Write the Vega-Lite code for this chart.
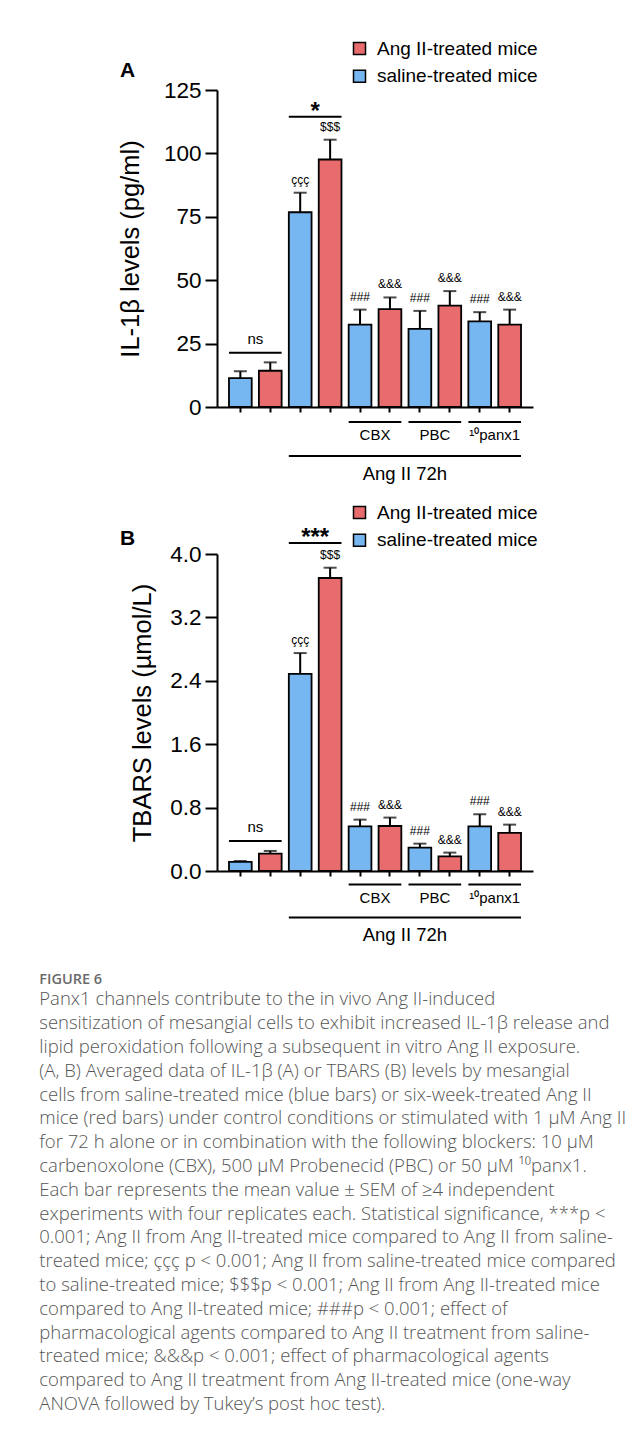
{
  "$schema": "https://vega.github.io/schema/vega-lite/v6.json",
  "padding": {"left": 39, "top": 39, "right": 10, "bottom": 20},
  "background": "white",
  "datasets": {
    "barsA": [
      {"bar": "b1", "group": "saline-treated mice", "mean": 11.4, "err": 14.1, "sig": ""},
      {"bar": "b2", "group": "Ang II-treated mice", "mean": 14.3, "err": 17.6, "sig": ""},
      {"bar": "b3", "group": "saline-treated mice", "mean": 76.8, "err": 84.5, "sig": "ççç"},
      {"bar": "b4", "group": "Ang II-treated mice", "mean": 97.6, "err": 105.4, "sig": "$$$"},
      {"bar": "b5", "group": "saline-treated mice", "mean": 32.5, "err": 38.4, "sig": "###"},
      {"bar": "b6", "group": "Ang II-treated mice", "mean": 38.6, "err": 43.2, "sig": "&&&"},
      {"bar": "b7", "group": "saline-treated mice", "mean": 30.8, "err": 37.9, "sig": "###"},
      {"bar": "b8", "group": "Ang II-treated mice", "mean": 40.0, "err": 45.7, "sig": "&&&"},
      {"bar": "b9", "group": "saline-treated mice", "mean": 33.8, "err": 37.4, "sig": "###"},
      {"bar": "b10", "group": "Ang II-treated mice", "mean": 32.5, "err": 38.4, "sig": "&&&"}
    ],
    "barsB": [
      {"bar": "b1", "group": "saline-treated mice", "mean": 0.114, "err": 0.126, "sig": ""},
      {"bar": "b2", "group": "Ang II-treated mice", "mean": 0.219, "err": 0.253, "sig": ""},
      {"bar": "b3", "group": "saline-treated mice", "mean": 2.488, "err": 2.75, "sig": "ççç"},
      {"bar": "b4", "group": "Ang II-treated mice", "mean": 3.697, "err": 3.827, "sig": "$$$"},
      {"bar": "b5", "group": "saline-treated mice", "mean": 0.564, "err": 0.648, "sig": "###"},
      {"bar": "b6", "group": "Ang II-treated mice", "mean": 0.568, "err": 0.674, "sig": "&&&"},
      {"bar": "b7", "group": "saline-treated mice", "mean": 0.295, "err": 0.345, "sig": "###"},
      {"bar": "b8", "group": "Ang II-treated mice", "mean": 0.185, "err": 0.232, "sig": "&&&"},
      {"bar": "b9", "group": "saline-treated mice", "mean": 0.564, "err": 0.716, "sig": "###"},
      {"bar": "b10", "group": "Ang II-treated mice", "mean": 0.48, "err": 0.585, "sig": "&&&"}
    ],
    "brA": [
      {"from": "b1", "to": "b2", "y": 21.4, "label": "ns"},
      {"from": "b3", "to": "b4", "y": 114.5, "label": "*"},
      {"from": "b5", "to": "b6", "y": -5.9, "label": "CBX"},
      {"from": "b7", "to": "b8", "y": -5.9, "label": "PBC"},
      {"from": "b9", "to": "b10", "y": -5.9, "label": "¹⁰panx1"},
      {"from": "b3", "to": "b10", "y": -19.3, "label": "Ang II 72h"}
    ],
    "brB": [
      {"from": "b1", "to": "b2", "y": 0.379, "label": "ns"},
      {"from": "b3", "to": "b4", "y": 4.139, "label": "***"},
      {"from": "b5", "to": "b6", "y": -0.17, "label": "CBX"},
      {"from": "b7", "to": "b8", "y": -0.17, "label": "PBC"},
      {"from": "b9", "to": "b10", "y": -0.17, "label": "¹⁰panx1"},
      {"from": "b3", "to": "b10", "y": -0.586, "label": "Ang II 72h"}
    ]
  },
  "title": {
    "text": "FIGURE 6",
    "subtitle": [
      "Panx1 channels contribute to the in vivo Ang II-induced",
      "sensitization of mesangial cells to exhibit increased IL-1β release and",
      "lipid peroxidation following a subsequent in vitro Ang II exposure.",
      "(A, B) Averaged data of IL-1β (A) or TBARS (B) levels by mesangial",
      "cells from saline-treated mice (blue bars) or six-week-treated Ang II",
      "mice (red bars) under control conditions or stimulated with 1 µM Ang II",
      "for 72 h alone or in combination with the following blockers: 10 µM",
      "carbenoxolone (CBX), 500 µM Probenecid (PBC) or 50 µM ¹⁰panx1.",
      "Each bar represents the mean value ± SEM of ≥4 independent",
      "experiments with four replicates each. Statistical significance, ***p <",
      "0.001; Ang II from Ang II-treated mice compared to Ang II from saline-",
      "treated mice; ççç p < 0.001; Ang II from saline-treated mice compared",
      "to saline-treated mice; $$$p < 0.001; Ang II from Ang II-treated mice",
      "compared to Ang II-treated mice; ###p < 0.001; effect of",
      "pharmacological agents compared to Ang II treatment from saline-",
      "treated mice; &&&p < 0.001; effect of pharmacological agents",
      "compared to Ang II treatment from Ang II-treated mice (one-way",
      "ANOVA followed by Tukey’s post hoc test)."
    ],
    "orient": "bottom",
    "anchor": "start",
    "frame": "group",
    "dx": -177.7,
    "offset": 28,
    "font": "Open Sans",
    "fontSize": 14.5,
    "fontWeight": 600,
    "color": "#6a6a6a",
    "subtitleFont": "Open Sans",
    "subtitleFontSize": 18.5,
    "subtitleFontWeight": 300,
    "subtitleColor": "#555555",
    "subtitleLineHeight": 23.8,
    "subtitlePadding": 3
  },
  "spacing": 147,
  "bounds": "flush",
  "resolve": {
    "scale": {"color": "independent", "x": "independent", "y": "independent"},
    "legend": {"color": "independent"}
  },
  "vconcat": [
    {
      "width": 316,
      "height": 317,
      "title": {"text": "A", "anchor": "start", "frame": "group", "dx": -97, "offset": -42, "fontSize": 21, "fontWeight": "bold", "font": "Liberation Sans", "color": "black"},
      "layer": [
        {
          "data": {"name": "barsA"},
          "mark": {"type": "bar", "stroke": "black", "strokeWidth": 1.8},
          "encoding": {
            "x": {"field": "bar", "type": "nominal",
              "scale": {"domain": ["b1","b2","b3","b4","b5","b6","b7","b8","b9","b10"], "paddingInner": 0.24, "paddingOuter": 0.4},
              "axis": {"labels": false, "title": null, "ticks": true, "tickSize": 5, "domainWidth": 2, "tickWidth": 2, "domainColor": "black", "tickColor": "black"}},
            "y": {"field": "mean", "type": "quantitative",
              "scale": {"domain": [0, 125], "nice": false},
              "axis": {"title": "IL-1β levels (pg/ml)", "values": [0,12.5,25,37.5,50,62.5,75,87.5,100,112.5,125], "format": "d",
                "labelExpr": "datum.value % 25 === 0 ? datum.label : ''",
                "tickSize": {"condition": {"test": "datum.value % 25 === 0", "value": 12}, "value": 7},
                "labelFontSize": 22.5, "labelPadding": 4, "titleFontSize": 25.5, "titlePadding": 19.5, "grid": false}},
            "color": {"field": "group", "type": "nominal",
              "scale": {"domain": ["Ang II-treated mice", "saline-treated mice"], "range": ["#e86b6e", "#76b7f2"]},
              "legend": {"orient": "none", "legendX": 133, "legendY": -51, "title": null, "symbolType": "square", "symbolSize": 144, "symbolStrokeColor": "black", "symbolStrokeWidth": 1.5, "labelFontSize": 19, "labelFont": "Liberation Sans", "labelColor": "black", "labelLimit": 400, "rowPadding": 7.7, "labelOffset": 8, "padding": 0}}
          }
        },
        {
          "data": {"name": "barsA"},
          "mark": {"type": "rule", "strokeWidth": 2, "color": "black"},
          "encoding": {
            "x": {"field": "bar", "type": "nominal"},
            "y": {"field": "mean", "type": "quantitative"},
            "y2": {"field": "err"}
          }
        },
        {
          "data": {"name": "barsA"},
          "mark": {"type": "tick", "orient": "horizontal", "size": 13, "thickness": 2, "color": "black"},
          "encoding": {
            "x": {"field": "bar", "type": "nominal"},
            "y": {"field": "err", "type": "quantitative"}
          }
        },
        {
          "data": {"name": "barsA"},
          "mark": {"type": "text", "dy": -13, "baseline": "middle", "fontSize": 12, "font": "Liberation Sans", "color": "black"},
          "encoding": {
            "x": {"field": "bar", "type": "nominal"},
            "y": {"field": "err", "type": "quantitative"},
            "text": {"field": "sig"}
          }
        },
        {
          "data": {"name": "brA"},
          "mark": {"type": "rule", "strokeWidth": 2, "color": "black"},
          "encoding": {
            "x": {"field": "from", "type": "nominal", "bandPosition": 0},
            "x2": {"field": "to", "bandPosition": 1},
            "y": {"field": "y", "type": "quantitative"}
          }
        },
        {
          "data": {"name": "brA"},
          "transform": [{"filter": "datum.label === 'ns'"}],
          "mark": {"type": "text", "baseline": "alphabetic", "dy": -8.5, "fontSize": 15, "font": "Liberation Sans", "color": "black"},
          "encoding": {
            "x": {"field": "from", "type": "nominal", "bandPosition": 1.158},
            "y": {"field": "y", "type": "quantitative"},
            "text": {"field": "label"}
          }
        },
        {
          "data": {"name": "brA"},
          "transform": [{"filter": "datum.label === '*' || datum.label === '***'"}],
          "mark": {"type": "text", "baseline": "alphabetic", "dy": 2, "fontSize": 24, "fontWeight": "bold", "font": "Liberation Sans", "color": "black"},
          "encoding": {
            "x": {"field": "from", "type": "nominal", "bandPosition": 1.158},
            "y": {"field": "y", "type": "quantitative"},
            "text": {"field": "label"}
          }
        },
        {
          "data": {"name": "brA"},
          "transform": [{"filter": "indexof(['CBX','PBC','¹⁰panx1'], datum.label) >= 0"}],
          "mark": {"type": "text", "baseline": "middle", "dy": 13.5, "fontSize": 15, "font": "Liberation Sans", "color": "black"},
          "encoding": {
            "x": {"field": "from", "type": "nominal", "bandPosition": 1.158},
            "y": {"field": "y", "type": "quantitative"},
            "text": {"field": "label"}
          }
        },
        {
          "data": {"name": "brA"},
          "transform": [{"filter": "datum.label === 'Ang II 72h'"}],
          "mark": {"type": "text", "baseline": "middle", "dy": 18, "fontSize": 18.5, "font": "Liberation Sans", "color": "black"},
          "encoding": {
            "x": {"field": "from", "type": "nominal", "bandPosition": 5.105},
            "y": {"field": "y", "type": "quantitative"},
            "text": {"field": "label"}
          }
        }
      ]
    },
    {
      "width": 316,
      "height": 317,
      "title": {"text": "B", "anchor": "start", "frame": "group", "dx": -97, "offset": -46, "fontSize": 21, "fontWeight": "bold", "font": "Liberation Sans", "color": "black"},
      "layer": [
        {
          "data": {"name": "barsB"},
          "mark": {"type": "bar", "stroke": "black", "strokeWidth": 1.8},
          "encoding": {
            "x": {"field": "bar", "type": "nominal",
              "scale": {"domain": ["b1","b2","b3","b4","b5","b6","b7","b8","b9","b10"], "paddingInner": 0.24, "paddingOuter": 0.4},
              "axis": {"labels": false, "title": null, "ticks": true, "tickSize": 5, "domainWidth": 2, "tickWidth": 2, "domainColor": "black", "tickColor": "black"}},
            "y": {"field": "mean", "type": "quantitative",
              "scale": {"domain": [0, 4], "nice": false},
              "axis": {"title": "TBARS levels (µmol/L)", "values": [0,0.4,0.8,1.2,1.6,2.0,2.4,2.8,3.2,3.6,4.0], "format": ".1f",
                "labelExpr": "round(datum.value * 10) % 8 === 0 ? datum.label : ''",
                "tickSize": {"condition": {"test": "round(datum.value * 10) % 8 === 0", "value": 12}, "value": 7},
                "labelFontSize": 22.5, "labelPadding": 4, "titleFontSize": 25.5, "titlePadding": 14, "grid": false}},
            "color": {"field": "group", "type": "nominal",
              "scale": {"domain": ["Ang II-treated mice", "saline-treated mice"], "range": ["#e86b6e", "#76b7f2"]},
              "legend": {"orient": "none", "legendX": 133, "legendY": -51, "title": null, "symbolType": "square", "symbolSize": 144, "symbolStrokeColor": "black", "symbolStrokeWidth": 1.5, "labelFontSize": 19, "labelFont": "Liberation Sans", "labelColor": "black", "labelLimit": 400, "rowPadding": 7.7, "labelOffset": 8, "padding": 0}}
          }
        },
        {
          "data": {"name": "barsB"},
          "mark": {"type": "rule", "strokeWidth": 2, "color": "black"},
          "encoding": {
            "x": {"field": "bar", "type": "nominal"},
            "y": {"field": "mean", "type": "quantitative"},
            "y2": {"field": "err"}
          }
        },
        {
          "data": {"name": "barsB"},
          "mark": {"type": "tick", "orient": "horizontal", "size": 13, "thickness": 2, "color": "black"},
          "encoding": {
            "x": {"field": "bar", "type": "nominal"},
            "y": {"field": "err", "type": "quantitative"}
          }
        },
        {
          "data": {"name": "barsB"},
          "mark": {"type": "text", "dy": -13, "baseline": "middle", "fontSize": 12, "font": "Liberation Sans", "color": "black"},
          "encoding": {
            "x": {"field": "bar", "type": "nominal"},
            "y": {"field": "err", "type": "quantitative"},
            "text": {"field": "sig"}
          }
        },
        {
          "data": {"name": "brB"},
          "mark": {"type": "rule", "strokeWidth": 2, "color": "black"},
          "encoding": {
            "x": {"field": "from", "type": "nominal", "bandPosition": 0},
            "x2": {"field": "to", "bandPosition": 1},
            "y": {"field": "y", "type": "quantitative"}
          }
        },
        {
          "data": {"name": "brB"},
          "transform": [{"filter": "datum.label === 'ns'"}],
          "mark": {"type": "text", "baseline": "alphabetic", "dy": -8.5, "fontSize": 15, "font": "Liberation Sans", "color": "black"},
          "encoding": {
            "x": {"field": "from", "type": "nominal", "bandPosition": 1.158},
            "y": {"field": "y", "type": "quantitative"},
            "text": {"field": "label"}
          }
        },
        {
          "data": {"name": "brB"},
          "transform": [{"filter": "datum.label === '*' || datum.label === '***'"}],
          "mark": {"type": "text", "baseline": "alphabetic", "dy": 2, "fontSize": 24, "fontWeight": "bold", "font": "Liberation Sans", "color": "black"},
          "encoding": {
            "x": {"field": "from", "type": "nominal", "bandPosition": 1.158},
            "y": {"field": "y", "type": "quantitative"},
            "text": {"field": "label"}
          }
        },
        {
          "data": {"name": "brB"},
          "transform": [{"filter": "indexof(['CBX','PBC','¹⁰panx1'], datum.label) >= 0"}],
          "mark": {"type": "text", "baseline": "middle", "dy": 13.5, "fontSize": 15, "font": "Liberation Sans", "color": "black"},
          "encoding": {
            "x": {"field": "from", "type": "nominal", "bandPosition": 1.158},
            "y": {"field": "y", "type": "quantitative"},
            "text": {"field": "label"}
          }
        },
        {
          "data": {"name": "brB"},
          "transform": [{"filter": "datum.label === 'Ang II 72h'"}],
          "mark": {"type": "text", "baseline": "middle", "dy": 18, "fontSize": 18.5, "font": "Liberation Sans", "color": "black"},
          "encoding": {
            "x": {"field": "from", "type": "nominal", "bandPosition": 5.105},
            "y": {"field": "y", "type": "quantitative"},
            "text": {"field": "label"}
          }
        }
      ]
    }
  ],
  "config": {
    "view": {"stroke": null},
    "font": "Liberation Sans",
    "axis": {"domainColor": "black", "tickColor": "black", "labelColor": "black", "titleColor": "black", "domainWidth": 2, "tickWidth": 2, "labelFont": "Liberation Sans", "titleFont": "Liberation Sans", "titleFontWeight": "normal", "grid": false}
  }
}
